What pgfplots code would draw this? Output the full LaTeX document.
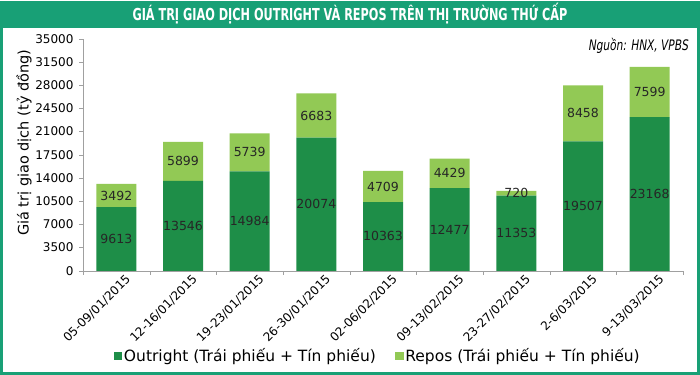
\documentclass[border=0pt]{standalone}
\usepackage{graphicx}
\usepackage{pgfplots}
\usepackage{pgfplotstable}
\pgfplotsset{compat=1.18}
\usepackage{fontspec}
\setmainfont{DejaVu Sans}
\newfontfamily\condfont{DejaVu Sans Condensed}
\definecolor{frame}{RGB}{24,160,118}
\definecolor{dgreen}{RGB}{30,142,72}
\definecolor{lgreen}{RGB}{146,201,85}
\definecolor{axgray}{RGB}{160,160,160}
\pgfplotstableread{
x out rep
0 9613 3492
1 13546 5899
2 14984 5739
3 20074 6683
4 10363 4709
5 12477 4429
6 11353 720
7 19507 8458
8 23168 7599
}\data
\begin{document}
\begin{tikzpicture}[x=1pt,y=1pt]
\fill[frame] (0,0) rectangle (700,374);
\fill[white] (3,3) rectangle (697,347);
\node[text=white, font=\condfont\bfseries\fontsize{16.5}{18}\selectfont] at (350,361) {\resizebox{435pt}{\height}{GIÁ TRỊ GIAO DỊCH OUTRIGHT VÀ REPOS TRÊN THỊ TRƯỜNG THỨ CẤP}};
\node[anchor=east, font=\condfont\itshape\fontsize{14.5}{16}\selectfont, inner sep=0pt] at (689,329) {\resizebox{100pt}{\height}{Nguồn: HNX, VPBS}};
\node[rotate=90, font=\fontsize{14.5}{16}\selectfont] at (24,232) {Giá trị giao dịch (tỷ đồng)};
\begin{axis}[
  at={(83pt,104pt)}, anchor=south west,
  scale only axis, width=600pt, height=232pt,
  ybar stacked, bar width=40pt,
  xmin=-0.5, xmax=8.5, ymin=0, ymax=35000,
  axis lines=left,
  axis line style={-, draw=axgray},
  ytick={0,3500,...,35000},
  xtick={-0.5,0.5,...,8.5},
  x tick label as interval,
  xticklabels={05-09/01/2015,12-16/01/2015,19-23/01/2015,26-30/01/2015,02-06/02/2015,09-13/02/2015,23-27/02/2015,2-6/03/2015,9-13/03/2015,},
  tick align=outside, major tick length=4pt,
  tick style={draw=axgray},
  scaled y ticks=false,
  /pgf/number format/.cd, 1000 sep={}, assume math mode=true, /pgfplots/.cd,
  yticklabel style={font=\fontsize{12}{12}\selectfont, xshift=-2pt},
  xticklabel style={font=\fontsize{12}{12}\selectfont, rotate=45, anchor=north east, inner sep=1pt, xshift=8pt, yshift=-4pt},
  legend style={draw=none, fill=none, at={(0.491,-0.366)}, anchor=center,
    legend columns=2, font=\fontsize{15.5}{17}\selectfont,
    /tikz/every even column/.append style={column sep=18pt},
    nodes={inner sep=1.5pt}},
  legend image code/.code={\fill[#1] (0pt,-4pt) rectangle (8.5pt,4pt);},
]
\addplot[fill=dgreen, draw=none] table[x=x, y=out]{\data};
\addplot[fill=lgreen, draw=none] table[x=x, y=rep]{\data};
\legend{Outright (Trái phiếu + Tín phiếu), Repos (Trái phiếu + Tín phiếu)}
\end{axis}
\begin{axis}[
  at={(83pt,104pt)}, anchor=south west,
  scale only axis, width=600pt, height=232pt,
  xmin=-0.5, xmax=8.5, ymin=0, ymax=35000,
  hide axis,
  nodes near coords, point meta=explicit symbolic,
  nodes near coords align={center},
  every node near coord/.append style={font=\fontsize{12.5}{12.5}\selectfont, text=black!85, inner sep=0pt},
]
\addplot[draw=none, mark=none] table[x=x, y expr=\thisrow{out}/2, meta=out]{\data};
\addplot[draw=none, mark=none] table[x=x, y expr=\thisrow{out}+\thisrow{rep}/2, meta=rep]{\data};
\end{axis}
\end{tikzpicture}
\end{document}
